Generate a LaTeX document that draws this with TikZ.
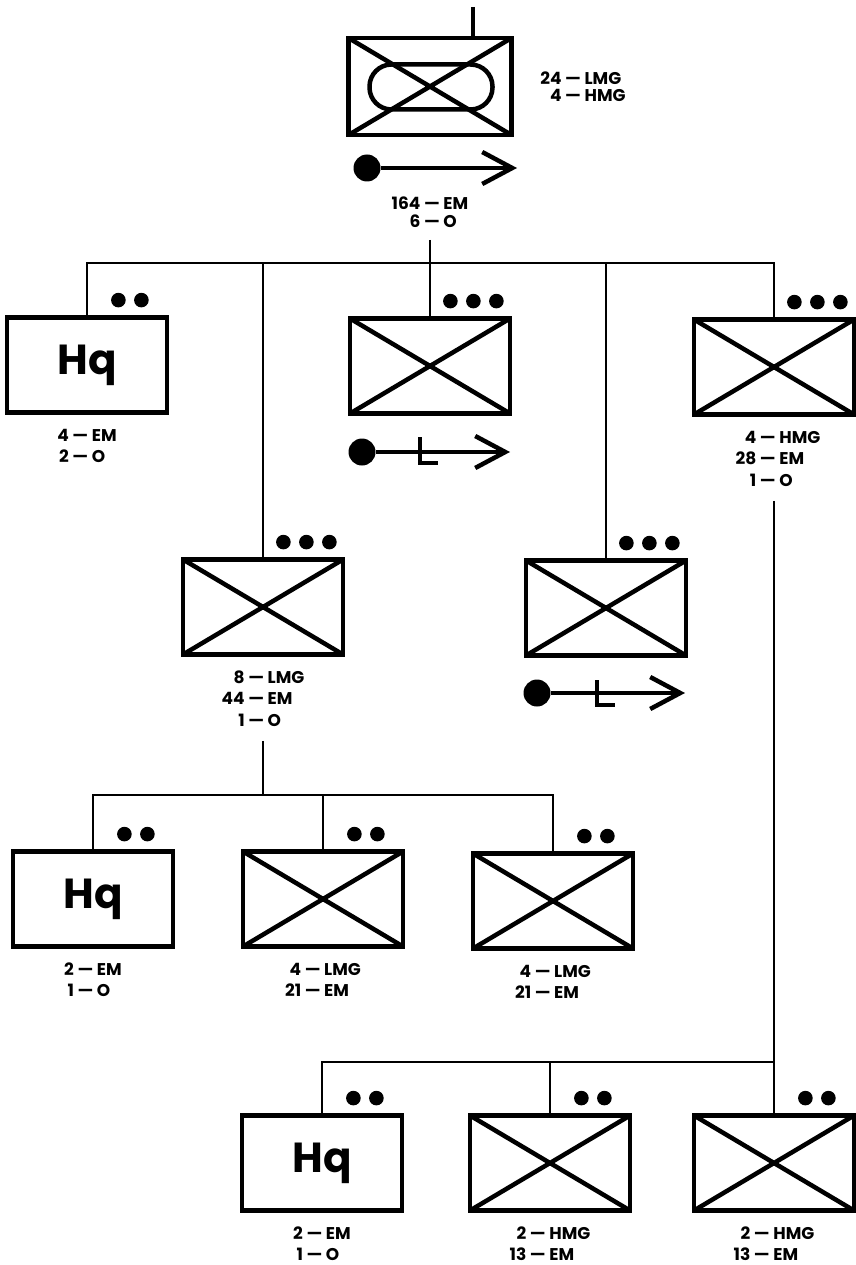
\documentclass[tikz,border=0pt]{standalone}
\usepackage{fontspec}
\setmainfont{Poppins}
\usetikzlibrary{arrows.meta,positioning}

% echelon marks above a unit box
\newcommand{\twodots}[1]{\foreach \k in {0,1} {\fill ([xshift={-28pt-\k*23pt},yshift=15pt]#1.north east) circle (7.3pt);}}
\newcommand{\threedots}[1]{\foreach \k in {0,1,2} {\fill ([xshift={-16pt-\k*23pt},yshift=15pt]#1.north east) circle (7.3pt);}}
\newcommand{\counts}[1]{\begin{tabular}{@{}r@{ \textemdash\ }l@{}}#1\end{tabular}}

\begin{document}
\begin{tikzpicture}[x=1pt,y=-1pt,
unit/.style={draw,line width=4.8pt,minimum width=160pt,minimum height=95pt,inner sep=0pt},
crossed/.style={unit,path picture={\draw[line width=4.5pt] (path picture bounding box.north west)--(path picture bounding box.south east)
  (path picture bounding box.south west)--(path picture bounding box.north east);}},
hqbox/.style={unit,font=\fontsize{42}{42}\selectfont\bfseries},
strength/.style={inner sep=0pt,font=\fontsize{17}{21.5}\selectfont\bfseries},
tight/.style={strength,font=\fontsize{17}{17}\selectfont\bfseries},
link/.style={line width=2.2pt},
bigdot/.style={circle,fill,inner sep=0pt,minimum size=27pt},
motor/.style={line width=4.5pt,-{Straight Barb[length=30pt,width=32pt]}},
lbar/.style={line width=4.5pt}]
\useasboundingbox (0,0) rectangle (855,1265);

% battalion
\node[crossed,minimum width=163pt,minimum height=97pt] (topbox) at (430,86.5) {};
\node[draw,line width=4.5pt,rounded corners=22pt,minimum width=123pt,minimum height=45pt] (pill) at (431,87) {};
\coordinate (stemtop) at (473,7);
\draw[lbar] (stemtop) -- (stemtop |- topbox.north);
\node[tight] (topguns) at (583,89) {\counts{24 & LMG\\ 4 & HMG}};
\node[bigdot] (topdot) at ([shift={(-63,81.5)}]topbox.center) {};
\coordinate (toptip) at ([shift={(87,81.5)}]topbox.center);
\draw[motor] (topdot) -- (toptip);
\node[tight] (toplbl) at (430,215) {\counts{164 & EM\\ 6 & O}};

% companies
\node[hqbox] (hqA) at (87,365) {Hq};
\node[crossed] (mgA) at (430,366) {};
\node[crossed] (cmdR) at (774,367) {};
\node[crossed] (platL) at (263,607) {};
\node[crossed] (platR) at (606,608) {};
\node[strength,below=11pt of hqA] (hqAlbl) {\counts{4 & EM\\ 2 & O}};
\node[strength,below=11pt of cmdR,xshift=4pt] (cmdRlbl) {\counts{4 & HMG\\ 28 & EM\\ 1 & O}};
\node[strength,below=11pt of platL] (platLlbl) {\counts{8 & LMG\\ 44 & EM\\ 1 & O}};
\twodots{hqA}\threedots{mgA}\threedots{cmdR}\threedots{platL}\threedots{platR}

\node[bigdot] (mgAdot) at ([shift={(-68,86)}]mgA.center) {};
\coordinate (mgAtip) at ([shift={(80,86)}]mgA.center);
\draw[motor] (mgAdot) -- (mgAtip);
\draw[lbar] ([shift={(-10,71)}]mgA.center) |- ([shift={(8,97)}]mgA.center);
\node[bigdot] (platRdot) at ([shift={(-69,85)}]platR.center) {};
\coordinate (platRtip) at ([shift={(79,85)}]platR.center);
\draw[motor] (platRdot) -- (platRtip);
\draw[lbar] ([shift={(-9,72)}]platR.center) |- ([shift={(9,97)}]platR.center);

\coordinate (busA) at (430,263);
\draw[link,shorten <=7pt] (toplbl.south -| busA) -- (busA);
\draw[link] (hqA.north) |- (busA) -| (cmdR.north);
\draw[link] (mgA.north) -- (mgA.north |- busA);
\draw[link] (platL.north) -- (platL.north |- busA);
\draw[link] (platR.north) -- (platR.north |- busA);

% platoon
\node[hqbox] (hqB) at (93,899) {Hq};
\node[crossed] (sqB2) at (323,899) {};
\node[crossed] (sqB3) at (553,901) {};
\node[strength,below=11pt of hqB] (hqBlbl) {\counts{2 & EM\\ 1 & O}};
\node[strength,below=11pt of sqB2] (sqB2lbl) {\counts{4 & LMG\\ 21 & EM}};
\node[strength,below=11pt of sqB3] (sqB3lbl) {\counts{4 & LMG\\ 21 & EM}};
\twodots{hqB}\twodots{sqB2}\twodots{sqB3}
\coordinate (busB) at (263,795);
\draw[link,shorten <=8pt] (platLlbl.south -| busB) -- (busB);
\draw[link] (hqB.north) |- (busB) -| (sqB3.north);
\draw[link] (sqB2.north) -- (sqB2.north |- busB);

% heavy weapons
\node[hqbox] (hqC) at (322,1163) {Hq};
\node[crossed] (hmgC1) at (550,1163) {};
\node[crossed] (hmgC2) at (774,1163) {};
\node[strength,below=11pt of hqC] (hqClbl) {\counts{2 & EM\\ 1 & O}};
\node[strength,below=11pt of hmgC1] (hmgC1lbl) {\counts{2 & HMG\\ 13 & EM}};
\node[strength,below=11pt of hmgC2] (hmgC2lbl) {\counts{2 & HMG\\ 13 & EM}};
\twodots{hqC}\twodots{hmgC1}\twodots{hmgC2}
\coordinate (busC) at (774,1062);
\draw[link,shorten <=8pt] (cmdRlbl.south -| busC) -- (busC);
\draw[link] (hqC.north) |- (busC) -- (hmgC2.north);
\draw[link] (hmgC1.north) -- (hmgC1.north |- busC);
\end{tikzpicture}
\end{document}
